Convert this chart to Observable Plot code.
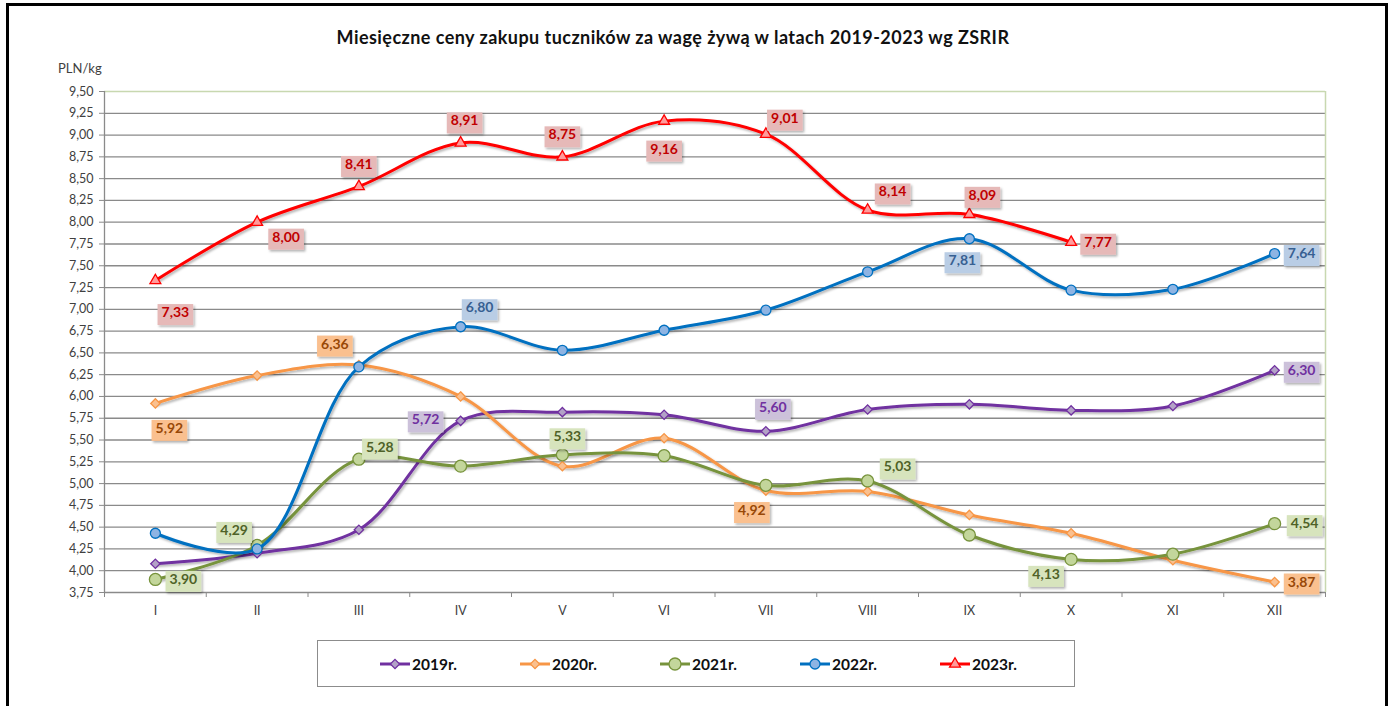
<!DOCTYPE html>
<html>
<head>
<meta charset="utf-8">
<script src="https://cdn.jsdelivr.net/npm/d3@7"></script>
<script src="https://cdn.jsdelivr.net/npm/@observablehq/plot@0.6"></script>
<style>
  body { margin: 0; background: #fff; font-family: Lato, "Open Sans", sans-serif; }
  #wrap { position: relative; width: 1395px; height: 706px; overflow: hidden; background: #fff; }
  #frame { position: absolute; left: 6px; top: 3px; width: 1382px; height: 760px; border: 3px solid #000; box-sizing: border-box; }
  #title { position: absolute; left: 0; width: 1346px; top: 26px; text-align: center; font-weight: bold; font-size: 18px; letter-spacing: 0.45px; color: #111; }
  #unit { position: absolute; left: 58px; top: 60px; font-size: 13px; color: #404040; }
  #chart { position: absolute; left: 0; top: 0; }
  #legend { position: absolute; left: 317px; top: 640px; width: 758px; height: 47px; border: 1.5px solid #8c8c8c; box-sizing: border-box; }
  .item { position: absolute; top: 12px; height: 22px; display: flex; align-items: center; font-weight: bold; font-size: 15.5px; color: #111; }
  .item svg { margin-right: 1px; }
</style>
</head>
<body>
<div id="wrap">
  <div id="frame"></div>
  <div id="title">Miesięczne ceny zakupu tuczników za wagę żywą w latach 2019-2023 wg ZSRIR</div>
  <div id="unit">PLN/kg</div>
  <div id="chart"></div>
  <div id="legend"></div>
</div>
<script>
// ---- data ----
const months = ["I","II","III","IV","V","VI","VII","VIII","IX","X","XI","XII"];
const years = ["2019r.","2020r.","2021r.","2022r.","2023r."];
const v2019 = [4.08,4.20,4.47,5.72,5.82,5.79,5.60,5.85,5.91,5.84,5.89,6.30];
const v2020 = [5.92,6.24,6.36,6.00,5.20,5.52,4.92,4.91,4.64,4.43,4.12,3.87];
const v2021 = [3.90,4.29,5.28,5.20,5.33,5.32,4.98,5.03,4.41,4.13,4.19,4.54];
const v2022 = [4.43,4.25,6.34,6.80,6.53,6.76,6.99,7.43,7.81,7.22,7.23,7.64];
const v2023 = [7.33,8.00,8.41,8.91,8.75,9.16,9.01,8.14,8.09,7.77];
const yTicks = [3.75,4.00,4.25,4.50,4.75,5.00,5.25,5.50,5.75,6.00,6.25,6.50,6.75,7.00,7.25,7.50,7.75,8.00,8.25,8.50,8.75,9.00,9.25,9.50];

// which points carry a value label (series index, month number)
const labelled = [
  [0,4],[0,7],[0,12],
  [1,1],[1,3],[1,7],[1,12],
  [2,1],[2,2],[2,3],[2,5],[2,8],[2,10],[2,12],
  [3,4],[3,9],[3,12],
  [4,1],[4,2],[4,3],[4,4],[4,5],[4,6],[4,7],[4,8],[4,9],[4,10]
];

// ---- layout / style (not data) ----
const labelOffsets = [
  [-35,-1],[7,-24],[27,0],
  [14,25],[-24,-21],[-14,20],[27,0],
  [28,0],[-23,-15],[21,-12],[5,-18],[30,-14],[-25,15],[30,0],
  [19,-19],[-7,22],[27,0],
  [20,32],[29,15],[0,-22],[4,-22],[0,-22],[0,28],[19,-16],[25,-18],[13,-19],[27,0]
];
const styles = [
  {line:"#7030a0", fill:"#b3a2c7", symbol:"diamond2", r:4.2, text:"#7030a0", box:"#ccc1da"},
  {line:"#f79646", fill:"#fac08f", symbol:"diamond2", r:4.2, text:"#984807", box:"#fac08f"},
  {line:"#77933c", fill:"#c3d69b", symbol:"circle",   r:6,   text:"#4f6228", box:"#d7e4bd"},
  {line:"#0070c0", fill:"#8eb4e3", symbol:"circle",   r:5,   text:"#376092", box:"#b9cde5"},
  {line:"#ff0000", fill:"#ff9b9b", symbol:"triangle2",r:5.2, text:"#c00000", box:"#e6b9b8"}
];

const seriesValues = [v2019, v2020, v2021, v2022, v2023];
const rows = seriesValues.flatMap((vals, si) => vals.map((v, i) => ({si, m: i + 1, v})));
const fmt = v => v.toFixed(2).replace(".", ",");

const marks = [
  Plot.ruleY(yTicks.filter(t => t > 3.75 && t < 9.5), {stroke: "#8a8a8a", strokeWidth: 1.3}),
  Plot.ruleY([9.5], {stroke: "#c8d8b0", strokeWidth: 1.5}),
  Plot.ruleX([12.5], {stroke: "#c8d8b0", strokeWidth: 1.5}),
  Plot.ruleX([0.5], {stroke: "#8a8a8a", strokeWidth: 1.3}),
  Plot.ruleY([3.75], {stroke: "#8a8a8a", strokeWidth: 1.3}),
  Plot.axisY({ticks: yTicks, tickFormat: fmt, tickSize: 5, tickPadding: 6, stroke: "#8a8a8a", fill: "#404040", fontSize: 12.5, label: null}),
  Plot.axisX({ticks: d3.range(0.5, 13, 1), tickFormat: () => "", tickSize: 5, stroke: "#8a8a8a", label: null}),
  Plot.axisX({ticks: d3.range(1, 13), tickFormat: i => months[i - 1], tickSize: 0, tickPadding: 14, fill: "#404040", fontSize: 12.5, label: null})
];
styles.forEach((st, si) => {
  const d = rows.filter(r => r.si === si);
  marks.push(Plot.line(d, {x: "m", y: "v", stroke: st.line, strokeWidth: 3, curve: "catmull-rom"}));
  marks.push(Plot.dot(d, {x: "m", y: "v", symbol: st.symbol, r: st.r, fill: st.fill, stroke: st.line, strokeWidth: 1.3}));
});
labelled.forEach(([si, m], k) => {
  const st = styles[si];
  const d = rows.filter(r => r.si === si && r.m === m);
  marks.push(Plot.text(d, {x: "m", y: "v", text: r => fmt(r.v), dx: labelOffsets[k][0], dy: labelOffsets[k][1],
    fill: st.text, fontWeight: "bold", fontSize: 14}));
});

const chart = Plot.plot({
  width: 1395,
  height: 640,
  marginLeft: 104,
  marginRight: 70,
  marginTop: 91,
  marginBottom: 48,
  style: {fontFamily: "Lato, 'Open Sans', sans-serif", fontSize: "12.5px", color: "#404040", background: "transparent", overflow: "visible"},
  x: {type: "linear", domain: [0.5, 12.5], label: null},
  y: {domain: [3.75, 9.5], label: null},
  marks
});
document.getElementById("chart").appendChild(chart);

// ---- post-process: shadows and label boxes ----
const svg = d3.select(chart);
const defs = svg.insert("defs", ":first-child");
const f = defs.append("filter").attr("id", "sh").attr("x", "-30%").attr("y", "-30%").attr("width", "170%").attr("height", "170%");
f.append("feDropShadow").attr("dx", 1.5).attr("dy", 1.8).attr("stdDeviation", 1.1).attr("flood-color", "#000").attr("flood-opacity", 0.3);
svg.selectAll('g[aria-label="line"]').attr("filter", "url(#sh)");

const boxByText = new Map(styles.map(s => [s.text, s.box]));
svg.selectAll('g[font-weight="bold"]').each(function () {
  const box = boxByText.get(this.getAttribute("fill"));
  if (!box) return;
  d3.select(this).selectAll("text").each(function () {
    const bb = this.getBBox();
    const r = document.createElementNS("http://www.w3.org/2000/svg", "rect");
    r.setAttribute("x", bb.x - 4);
    r.setAttribute("y", bb.y + 1);
    r.setAttribute("width", bb.width + 8);
    r.setAttribute("height", bb.height + 4);
    r.setAttribute("fill", box);
    r.setAttribute("stroke", "none");
    r.setAttribute("filter", "url(#sh)");
    const t = this.getAttribute("transform");
    if (t) r.setAttribute("transform", t);
    this.parentNode.insertBefore(r, this);
  });
});

// ---- legend ----
const legend = d3.select("#legend");
const symMap = {diamond2: d3.symbolDiamond2, circle: d3.symbolCircle, triangle2: d3.symbolTriangle2};
years.forEach((name, si) => {
  const st = styles[si];
  const item = legend.append("div").attr("class", "item").style("left", (61 + si * 140) + "px");
  const s = item.append("svg").attr("width", 32).attr("height", 18);
  s.append("line").attr("x1", 1).attr("x2", 31).attr("y1", 9).attr("y2", 9).attr("stroke", st.line).attr("stroke-width", 3);
  s.append("path").attr("transform", "translate(16,9)")
    .attr("d", d3.symbol(symMap[st.symbol], Math.PI * st.r * st.r)())
    .attr("fill", st.fill).attr("stroke", st.line).attr("stroke-width", 1.3);
  item.append("span").text(name);
});
</script>
</body>
</html>
